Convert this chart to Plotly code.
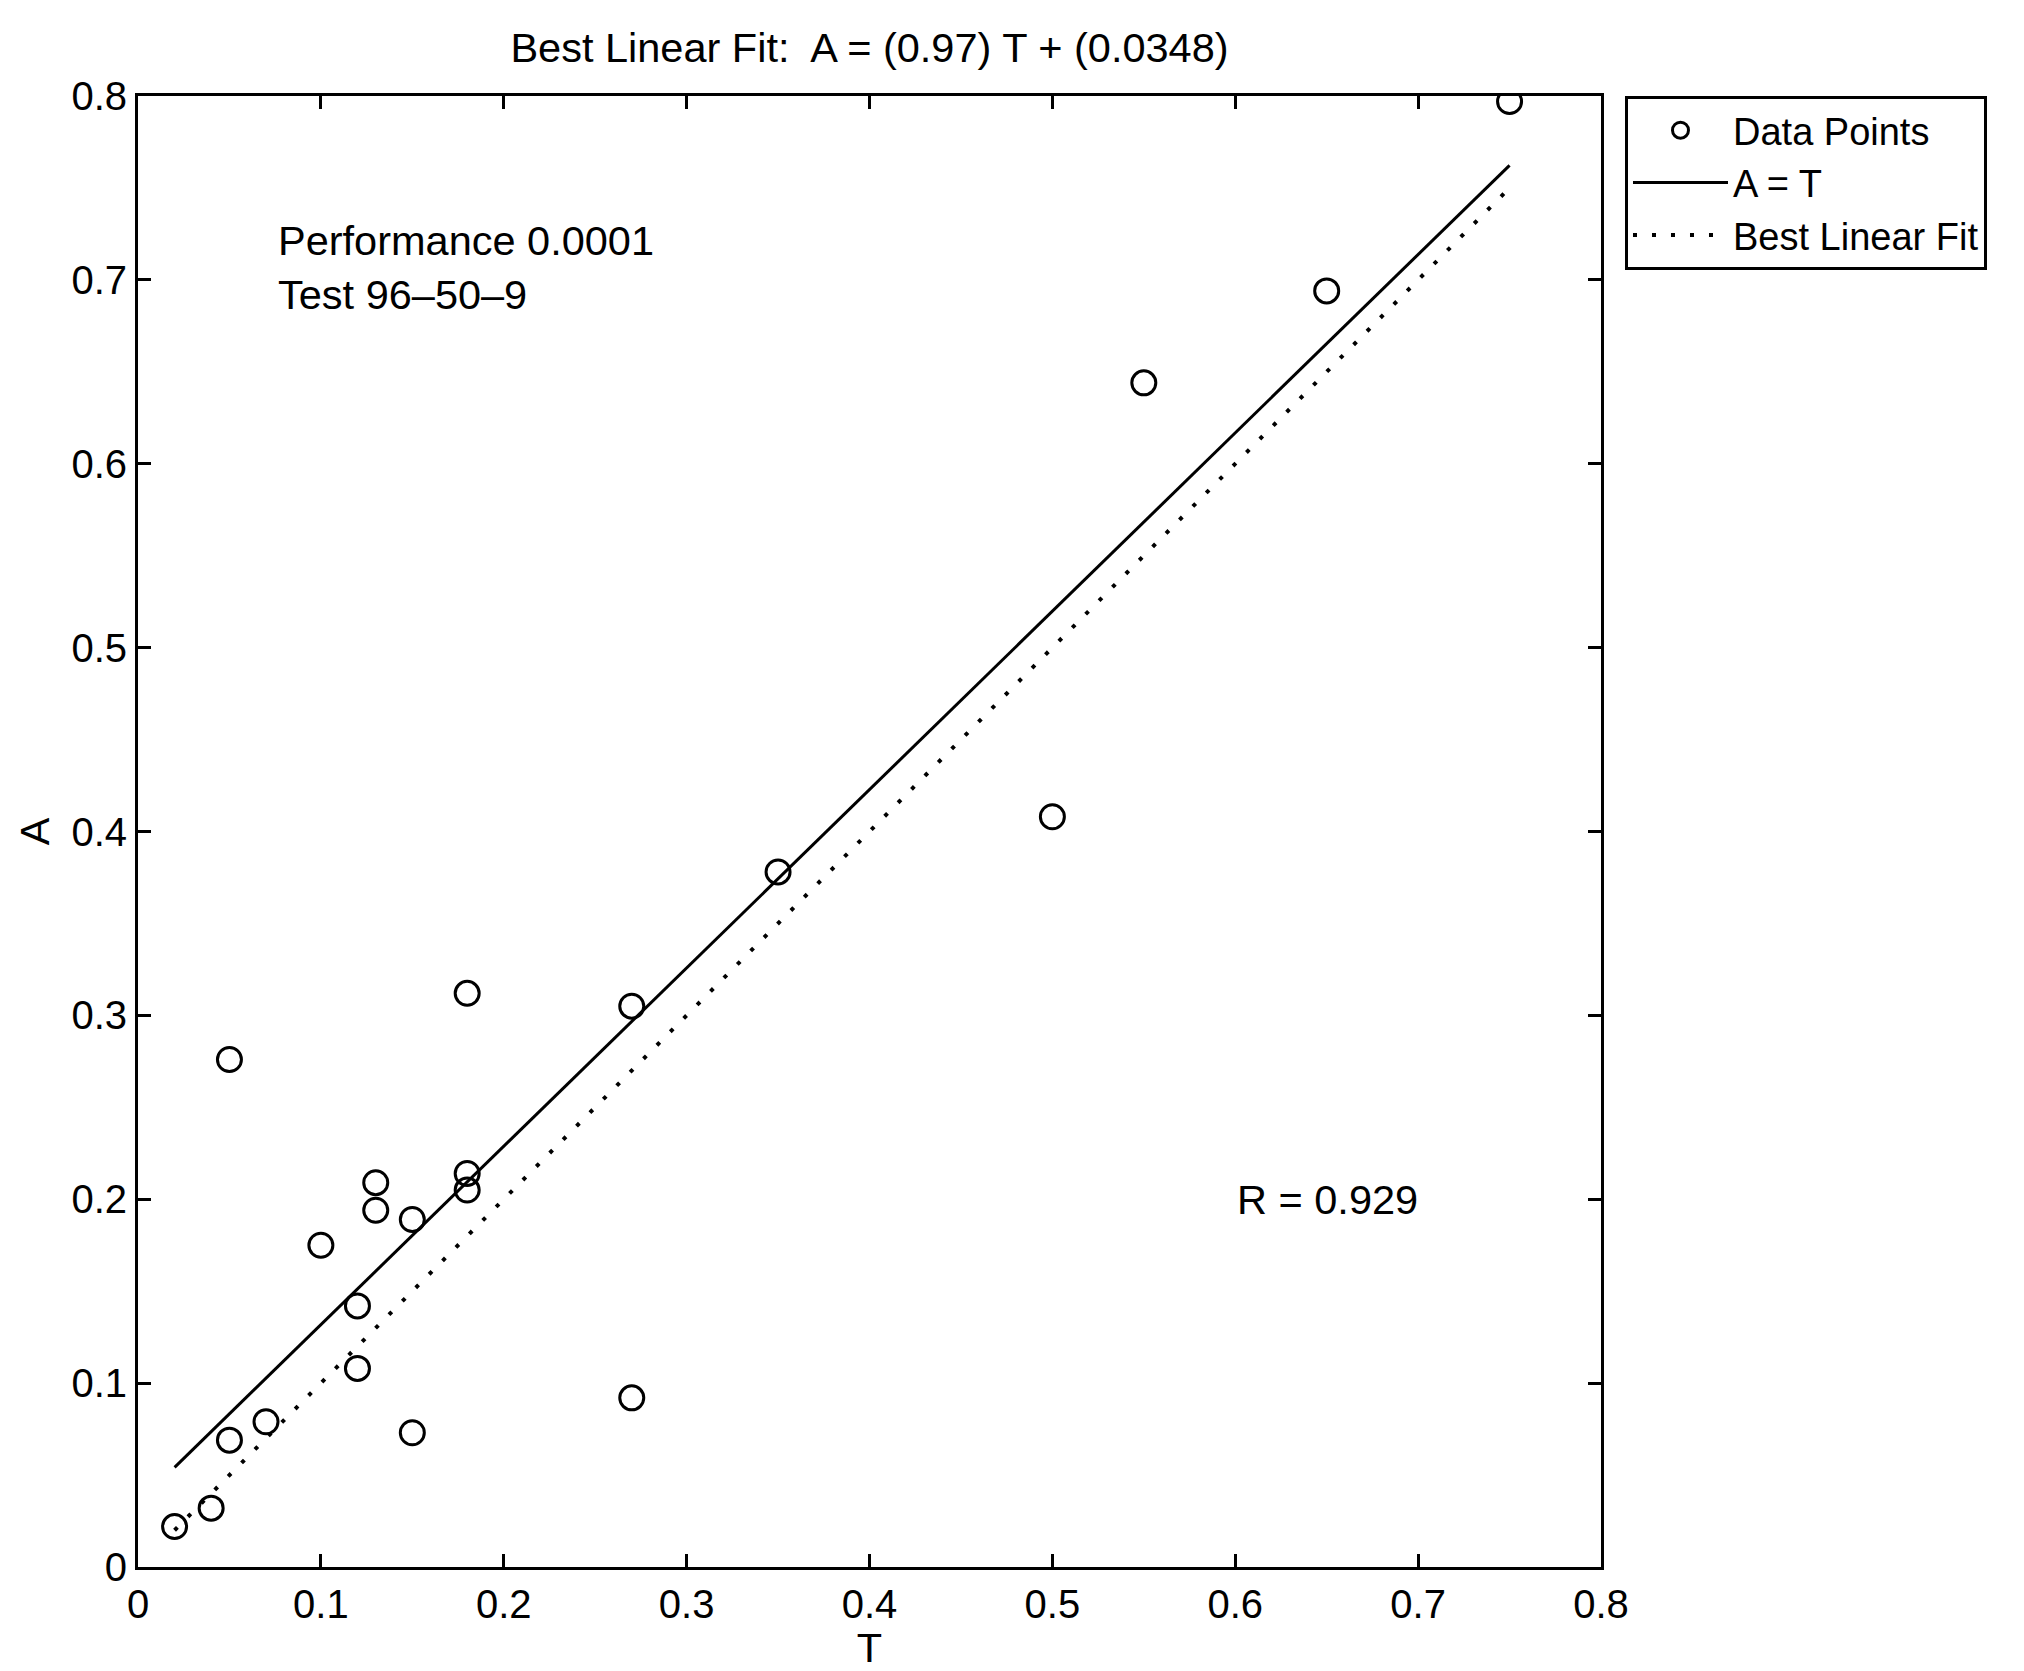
import plotly.graph_objects as go

# Data
T_vals = [0.02, 0.04, 0.05, 0.07, 0.05, 0.10, 0.12, 0.12, 0.13, 0.13, 0.15,
          0.15, 0.18, 0.18, 0.18, 0.27, 0.27, 0.35, 0.50, 0.55, 0.65, 0.75]
A_vals = [0.022, 0.032, 0.069, 0.079, 0.276, 0.175, 0.142, 0.108, 0.209, 0.194, 0.189,
          0.073, 0.312, 0.214, 0.205, 0.305, 0.092, 0.378, 0.408, 0.644, 0.694, 0.797]

# Solid line (labelled "A = T" in the legend) and dotted line endpoints
solid_x = [0.02, 0.75]
solid_y = [0.0542, 0.7623]
dotted_x = [0.02, 0.75]
dotted_y = [0.02, 0.75]

tick_vals = [0, 0.1, 0.2, 0.3, 0.4, 0.5, 0.6, 0.7, 0.8]
tick_text = ["0", "0.1", "0.2", "0.3", "0.4", "0.5", "0.6", "0.7", "0.8"]

FONT = "Liberation Sans, Arial, Helvetica, sans-serif"
FS_TICK = 40
FS_TEXT = 41.5

fig = go.Figure()
fig.add_trace(go.Scatter(
    x=T_vals, y=A_vals, mode="markers", name="Data Points",
    marker=dict(symbol="circle-open", size=24, color="black", line=dict(width=3, color="black")),
))
fig.add_trace(go.Scatter(
    x=solid_x, y=solid_y, mode="lines", name="A = T",
    line=dict(color="black", width=3),
))
fig.add_trace(go.Scatter(
    x=dotted_x, y=dotted_y, mode="lines", name="Best Linear Fit",
    line=dict(color="black", width=4, dash="4px,15px"),
))

axis_common = dict(
    range=[0, 0.8], tickvals=tick_vals, ticktext=tick_text, automargin=False,
    showgrid=False, zeroline=False, showline=True, linecolor="black", linewidth=3,
    mirror="ticks", ticks="inside", ticklen=13, tickwidth=2.5, tickcolor="black",
    tickfont=dict(family=FONT, size=FS_TICK, color="black"),
)

fig.update_layout(
    width=2024, height=1671,
    paper_bgcolor="white", plot_bgcolor="white",
    margin=dict(l=138, r=423, t=96, b=104, autoexpand=False),
    font=dict(family=FONT, size=FS_TEXT, color="black"),
    xaxis=dict(**axis_common, title=dict(text="T", standoff=17, font=dict(family=FONT, size=FS_TEXT))),
    yaxis=dict(**axis_common, title=dict(text="A", standoff=9, font=dict(family=FONT, size=FS_TEXT))),
    title=dict(text="Best Linear Fit:&nbsp; A = (0.97) T + (0.0348)", x=0.5, xref="paper",
               y=1 - 47 / 1671, yanchor="middle", xanchor="center",
               font=dict(family=FONT, size=FS_TEXT, color="black")),
    legend=dict(x=1.0164, y=1, xanchor="left", yanchor="top", xref="paper", yref="paper",
                bordercolor="black", borderwidth=3, bgcolor="white",
                font=dict(family=FONT, size=38, color="black"), itemwidth=95,
                tracegroupgap=0),
    showlegend=True,
    annotations=[
        dict(x=0.0755, y=0.719, xref="x", yref="y", text="Performance 0.0001<br>Test 96\u201350\u20139",
             showarrow=False, xanchor="left", yanchor="top", align="left",
             font=dict(family=FONT, size=FS_TEXT, color="black"), yshift=30),
        dict(x=0.6, y=0.2, xref="x", yref="y", text="R = 0.929", showarrow=False,
             xanchor="left", yanchor="middle", font=dict(family=FONT, size=FS_TEXT, color="black")),
    ],
)

fig.write_html("out.html")
